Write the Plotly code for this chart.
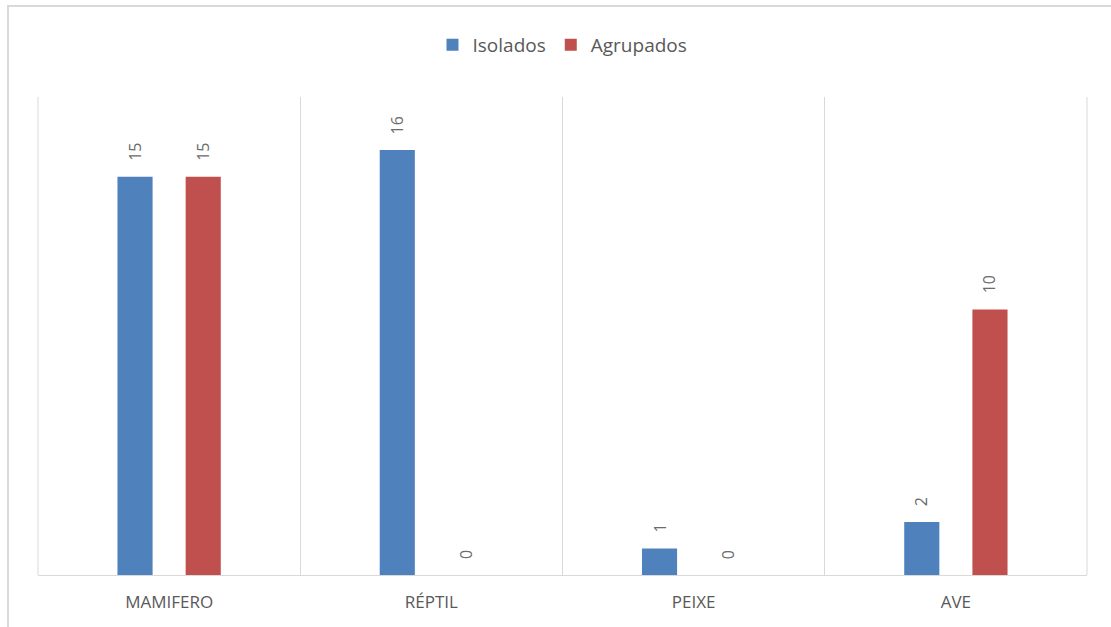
import plotly.graph_objects as go

categories = ["MAMIFERO", "RÉPTIL", "PEIXE", "AVE"]
isolados = [15, 16, 1, 2]
agrupados = [15, 0, 0, 10]
series_names = ["Isolados", "Agrupados"]
colors = ["#4F81BD", "#C0504D"]

W, H = 1111, 627
ml, mr, mt, mb = 38, 24, 97, 52
pw = W - ml - mr
ph = H - mt - mb

fig = go.Figure()
for name, vals, col in zip(series_names, [isolados, agrupados], colors):
    fig.add_trace(go.Bar(x=categories, y=vals, name=name, marker=dict(color=col, line=dict(width=0))))

# data labels
for k, vals in enumerate([isolados, agrupados]):
    shift = -34 if k == 0 else 34
    for c, v in zip(categories, vals):
        fig.add_annotation(x=c, y=v, xref="x", yref="y", text=str(v), showarrow=False,
                           textangle=-90, xshift=shift, yshift=14, yanchor="bottom",
                           font=dict(family="Open Sans", size=16, color="#6b6b6b"))

# outer chart frame
fig.add_shape(type="rect", xref="paper", yref="paper",
              x0=(8 - ml) / pw, x1=1.2, y0=-0.3, y1=(H - mb - 6) / ph,
              line=dict(color="#D9D9D9", width=2), fillcolor="rgba(0,0,0,0)", layer="below")
# plot-area edge gridlines
for xb in (0.0, 1.0):
    fig.add_shape(type="line", xref="paper", yref="paper", x0=xb, x1=xb, y0=0, y1=1,
                  line=dict(color="#D9D9D9", width=1), layer="below")

fig.update_layout(
    width=W, height=H,
    margin=dict(l=ml, r=mr, t=mt, b=mb),
    paper_bgcolor="white", plot_bgcolor="white",
    barmode="group", bargap=0.48, bargroupgap=0.485,
    font=dict(family="Open Sans", color="#595959"),
    legend=dict(orientation="h", x=0.5, xanchor="center", y=(H - mb - 45) / ph, yanchor="middle",
                font=dict(size=19, color="#595959"), itemwidth=30, traceorder="normal"),
    xaxis=dict(type="category", tickson="boundaries", showgrid=True, gridcolor="#D9D9D9", gridwidth=1,
               showline=True, linecolor="#D9D9D9", linewidth=1, ticks="", ticklabelstandoff=12,
               tickfont=dict(size=17, color="#595959"), range=[-0.5, 3.5]),
    yaxis=dict(range=[0, 18], showgrid=False, showticklabels=False, zeroline=False, showline=False, ticks=""),
)

fig.write_html("out.html")
